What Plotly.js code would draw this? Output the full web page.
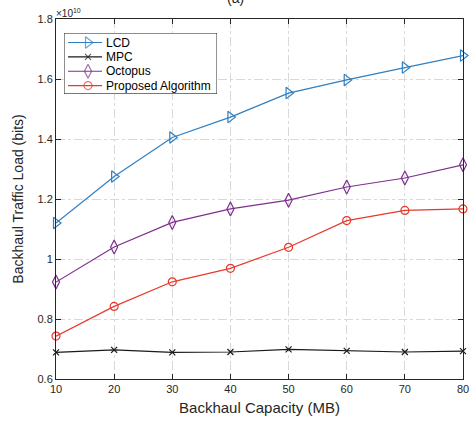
<!DOCTYPE html>
<html>
<head>
<meta charset="utf-8">
<script src="https://cdn.plot.ly/plotly-3.0.1.min.js"></script>
<style>html,body{margin:0;padding:0;background:#fff;}</style>
</head>
<body>
<div id="chart" style="width:471px;height:424px;"></div>
<script>
const capacity = [10, 20, 30, 40, 50, 60, 70, 80];
const lcd      = [1.12, 1.275, 1.405, 1.473, 1.553, 1.597, 1.638, 1.678];
const mpc      = [0.689, 0.697, 0.689, 0.690, 0.699, 0.694, 0.690, 0.693];
const octopus  = [0.923, 1.040, 1.122, 1.167, 1.196, 1.240, 1.270, 1.314];
const proposed = [0.743, 0.842, 0.924, 0.969, 1.039, 1.128, 1.162, 1.167];
const seriesNames = ['LCD', 'MPC', 'Octopus', 'Proposed Algorithm'];
const yTicks = [0.6, 0.8, 1, 1.2, 1.4, 1.6, 1.8];
const yTickText = ['0.6', '0.8', '1', '1.2', '1.4', '1.6', '1.8'];

const FONT = 'Liberation Sans, Arial, sans-serif';
const styles = [
  {color: '#2f7fc1', symbol: 'triangle-right-open', size: 10},
  {color: '#1a1a1a', symbol: 'x-thin-open', size: 6},
  {color: '#7e2f8e', symbol: 'diamond-tall-open', size: 10},
  {color: '#e8392c', symbol: 'circle-open', size: 8}
];
const values = [lcd, mpc, octopus, proposed];

const data = values.map((y, i) => ({
  x: capacity, y: y, name: seriesNames[i], type: 'scatter', mode: 'lines+markers',
  line: {color: styles[i].color, width: 1.2},
  marker: {symbol: styles[i].symbol, size: styles[i].size, color: styles[i].color,
           line: {color: styles[i].color, width: 1.2}},
  cliponaxis: false, showlegend: false
}));

// custom legend glyphs drawn on a small helper axis (box units: 153 x 61)
const legendRow = i => 9.5 + 14.4 * i;
seriesNames.forEach((n, i) => {
  data.push({
    x: [4, 24, 38], y: [legendRow(i), legendRow(i), legendRow(i)],
    xaxis: 'x2', yaxis: 'y2', type: 'scatter', mode: 'lines+markers', showlegend: false,
    line: {color: styles[i].color, width: 1.2},
    marker: {symbol: styles[i].symbol, size: [0, styles[i].size, 0], color: styles[i].color,
             line: {color: styles[i].color, width: 1.2}},
    cliponaxis: false, hoverinfo: 'skip'
  });
});

const axisCommon = {
  showline: true, linecolor: '#262626', linewidth: 1, mirror: 'ticks',
  ticks: 'inside', ticklen: 5, tickcolor: '#262626',
  showgrid: true, gridcolor: '#d9d9d9', griddash: 'dashdot', gridwidth: 1,
  zeroline: false,
  tickfont: {family: FONT, size: 11, color: '#262626'}
};

const annotations = [
  {text: '×10<sup>10</sup>', xref: 'paper', yref: 'paper', x: 0, y: 1,
   xanchor: 'left', yanchor: 'bottom', showarrow: false, xshift: -2, yshift: -2,
   font: {family: FONT, size: 10, color: '#262626'}},
  {text: '(a)', xref: 'paper', yref: 'paper', x: 0.44, y: 1, yanchor: 'bottom',
   showarrow: false, yshift: 11,
   font: {family: FONT, size: 14, color: '#262626'}}
];
seriesNames.forEach((n, i) => {
  annotations.push({text: n, xref: 'x2', yref: 'y2', x: 40, y: legendRow(i),
    xanchor: 'left', yanchor: 'middle', showarrow: false,
    font: {family: FONT, size: 12, color: '#000'}});
});

const layout = {
  width: 471, height: 424,
  margin: {l: 56, r: 8, t: 19, b: 45},
  paper_bgcolor: '#ffffff', plot_bgcolor: '#ffffff',
  showlegend: false,
  xaxis: Object.assign({}, axisCommon, {
    range: [10, 80], tickvals: capacity, ticktext: capacity.map(String),
    title: {text: 'Backhaul Capacity (MB)', standoff: 8,
            font: {family: FONT, size: 15, color: '#262626'}}
  }),
  yaxis: Object.assign({}, axisCommon, {
    range: [0.6, 1.8], tickvals: yTicks, ticktext: yTickText,
    title: {text: 'Backhaul Traffic Load (bits)', standoff: 10,
            font: {family: FONT, size: 14, color: '#262626'}}
  }),
  xaxis2: {domain: [0.0197, 0.3956], range: [0, 153], anchor: 'y2', visible: false, fixedrange: true},
  yaxis2: {domain: [0.792, 0.961], range: [61, 0], anchor: 'x2', visible: false, fixedrange: true},
  shapes: [
    {type: 'rect', xref: 'x2', yref: 'y2', x0: 0, x1: 153, y0: 0, y1: 61,
     fillcolor: '#ffffff', line: {color: '#262626', width: 1}, layer: 'below'}
  ],
  annotations: annotations
};

Plotly.newPlot('chart', data, layout, {displayModeBar: false, staticPlot: true});
</script>
</body>
</html>
